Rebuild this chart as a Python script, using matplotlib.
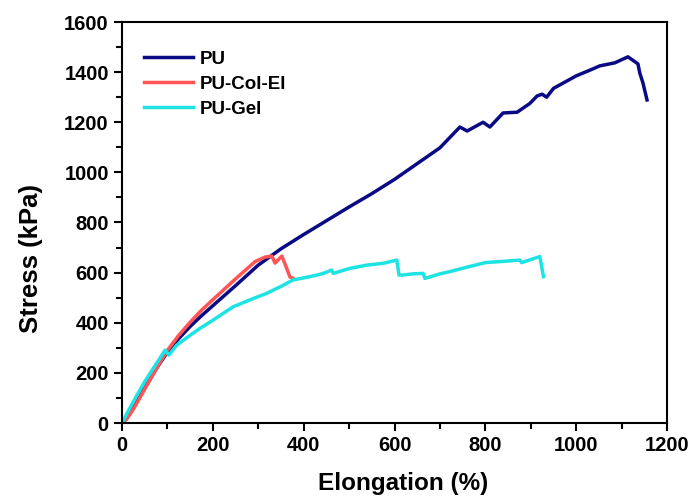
import matplotlib.pyplot as plt
from matplotlib.ticker import MultipleLocator

# PU
pu_x = [0, 10, 25, 50, 75, 100, 125, 150, 175, 200, 250, 300, 350, 400, 450,
        500, 550, 600, 650, 700, 744, 760, 795, 810, 839, 870, 898, 914, 925,
        935, 950, 1000, 1037, 1052, 1085, 1114, 1136, 1140, 1147, 1156]
pu_y = [0, 18, 60, 140, 215, 283, 337, 385, 428, 468, 548, 630, 695, 752, 807,
        862, 915, 972, 1035, 1098, 1181, 1165, 1200, 1181, 1237, 1240, 1275,
        1305, 1312, 1300, 1335, 1385, 1413, 1425, 1437, 1461, 1433, 1397, 1357,
        1289]

# PU-Col-El
col_x = [0, 10, 25, 50, 75, 100, 125, 150, 175, 200, 250, 293, 304, 315, 330,
         337, 352, 359, 370, 376]
col_y = [0, 15, 55, 135, 215, 290, 350, 402, 450, 492, 575, 644, 653, 662, 666,
         638, 666, 634, 582, 578]

# PU-Gel
gel_x = [0, 10, 25, 50, 75, 95, 103, 120, 150, 172, 200, 245, 280, 318, 350,
         377, 414, 440, 462, 465, 502, 539, 575, 605, 610, 616, 640, 663, 667,
         700, 722, 760, 800, 832, 876, 880, 920, 928]
gel_y = [0, 35, 85, 165, 235, 291, 271, 310, 350, 378, 410, 464, 490, 517, 545,
         571, 584, 595, 610, 597, 617, 630, 637, 650, 590, 590, 595, 597, 577,
         595, 604, 622, 640, 644, 650, 640, 664, 584]

plt.rcParams["font.family"] = ["Liberation Sans", "DejaVu Sans"]
plt.rcParams["font.weight"] = "bold"

fig = plt.figure(figsize=(6.91, 4.98), dpi=100)
ax = fig.add_axes([122 / 691, 75 / 498, 545 / 691, 401 / 498])

ax.plot(pu_x, pu_y, color="#0a0a85", lw=2.5, label="PU")
ax.plot(col_x, col_y, color="#ff5555", lw=2.5, label="PU-Col-El")
ax.plot(gel_x, gel_y, color="#1ee3e3", lw=2.5, label="PU-Gel")

ax.set_xlim(0, 1200)
ax.set_ylim(0, 1600)
ax.xaxis.set_major_locator(MultipleLocator(200))
ax.xaxis.set_minor_locator(MultipleLocator(100))
ax.yaxis.set_major_locator(MultipleLocator(200))
ax.yaxis.set_minor_locator(MultipleLocator(100))
ax.tick_params(which="major", length=6, width=1.5, labelsize=14.5, direction="out")
ax.tick_params(which="minor", length=4, width=1.5, direction="out")
for s in ax.spines.values():
    s.set_linewidth(1.5)

ax.set_xlabel("Elongation (%)", fontsize=17.5, fontweight="bold", labelpad=12)
ax.set_ylabel("Stress (kPa)", fontsize=18.5, fontweight="bold", labelpad=15)
# labels sit a bit off-centre in the original
ax.xaxis.label.set_x(0.516)
ax.yaxis.label.set_y(0.41)

ax.legend(loc="upper left", frameon=False, fontsize=13.5, handlelength=2.6,
          bbox_to_anchor=(0.01, 0.97), labelspacing=0.42, handletextpad=0.35)

fig.savefig("out.png", dpi=100)
